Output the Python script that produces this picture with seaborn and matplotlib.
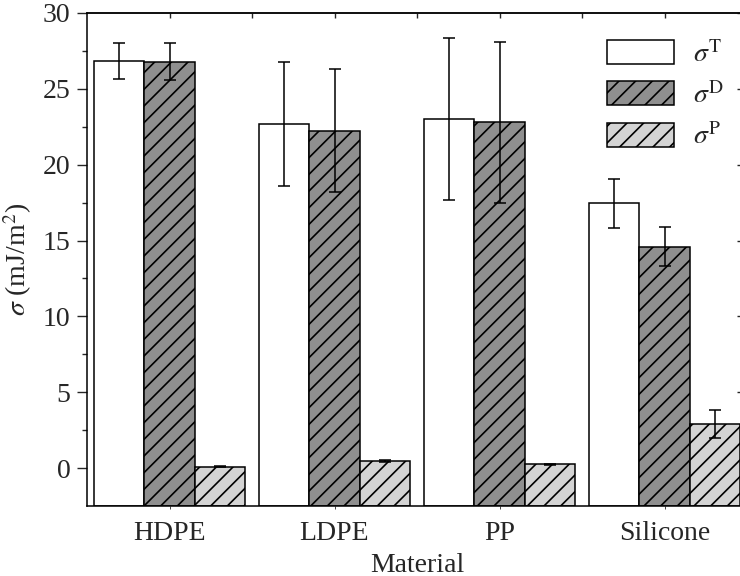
import pandas as pd
import seaborn as sns
import matplotlib.pyplot as plt
from matplotlib.patches import Patch
from matplotlib.ticker import MultipleLocator, FixedLocator, NullFormatter

# values (mJ/m^2)
materials = ["HDPE", "LDPE", "PP", "Silicone"]
components = [r"$\sigma^{\mathrm{T}}$", r"$\sigma^{\mathrm{D}}$", r"$\sigma^{\mathrm{P}}$"]
sigma_T = [26.85, 22.7, 23.0, 17.45]
sigma_T_err = [1.2, 4.1, 5.35, 1.6]
sigma_D = [26.8, 22.25, 22.8, 14.6]
sigma_D_err = [1.2, 4.05, 5.3, 1.3]
sigma_P = [0.1, 0.45, 0.25, 2.9]
sigma_P_err = [0.02, 0.07, 0.03, 0.9]

colors = ["#ffffff", "#8f8f8f", "#d4d4d4"]
hatches = ["", "//", "//"]
ymin = -2.5

df = pd.DataFrame({
    "material": materials * 3,
    "component": [components[0]] * 4 + [components[1]] * 4 + [components[2]] * 4,
    "value": sigma_T + sigma_D + sigma_P,
    "err": sigma_T_err + sigma_D_err + sigma_P_err,
})

sns.set_style("ticks")
plt.rcParams["font.family"] = ["Liberation Serif", "DejaVu Serif"]
plt.rcParams["mathtext.fontset"] = "stix"
plt.rcParams["hatch.linewidth"] = 1.2

fs = 20
fig = plt.figure(figsize=(7.4, 5.76), dpi=100)
ax = fig.add_axes([87 / 740, 1 - 506 / 576, 660 / 740, 493 / 576])

sns.barplot(data=df, x="material", y="value", hue="component", palette=colors,
            saturation=1, width=0.91, edgecolor="black", linewidth=1.1,
            errorbar=None, legend=False, ax=ax)

# bars start at the bottom of the axis, as in the original (Origin style)
errs = [sigma_T_err, sigma_D_err, sigma_P_err]
for cont, h, err in zip(ax.containers, hatches, errs):
    for bar, e in zip(cont, err):
        top = bar.get_height()
        bar.set_y(ymin)
        bar.set_height(top - ymin)
        bar.set_hatch(h)
        ax.errorbar(bar.get_x() + bar.get_width() / 2, top, yerr=e,
                    color="black", capsize=4, elinewidth=1.1, capthick=1.1)

ax.set_ylim(ymin, 30)
ax.set_xlim(-0.5, 3.5)
ax.yaxis.set_major_locator(MultipleLocator(5))
ax.yaxis.set_minor_locator(FixedLocator([2.5, 7.5, 12.5, 17.5, 22.5, 27.5]))
ax.tick_params(axis="y", which="major", direction="out", length=7, width=1,
               pad=5, labelsize=fs)
ax.tick_params(axis="y", which="minor", direction="out", length=3.6, width=1)
ax.tick_params(axis="x", which="major", direction="out", length=2, width=0.6,
               pad=8.5, labelsize=fs)
ax.set_xlabel("Material", fontsize=fs, labelpad=5)
ax.set_ylabel(r"$\sigma$ (mJ/m$^2$)", fontsize=fs, labelpad=6)
for s in ax.spines.values():
    s.set_linewidth(1.1)
    s.set_color("black")

# ticks on the top and right side pointing inwards
top = ax.secondary_xaxis("top")
top.xaxis.set_major_locator(FixedLocator([0, 1, 2, 3]))
top.xaxis.set_minor_locator(FixedLocator([0.5, 1.5, 2.5]))
top.xaxis.set_major_formatter(NullFormatter())
top.tick_params(which="both", direction="in", length=3.5, width=1)
top.spines["top"].set_linewidth(1.1)
right = ax.secondary_yaxis("right")
right.yaxis.set_major_locator(MultipleLocator(5))
right.yaxis.set_minor_locator(FixedLocator([2.5, 7.5, 12.5, 17.5, 22.5, 27.5]))
right.yaxis.set_major_formatter(NullFormatter())
right.tick_params(which="major", direction="in", length=7, width=1)
right.tick_params(which="minor", direction="in", length=3.6, width=1)

handles = [Patch(facecolor=c, edgecolor="black", hatch=h, linewidth=1.1)
           for c, h in zip(colors, hatches)]
ax.legend(handles, components, loc="upper left",
          bbox_to_anchor=(607 / 740, 1 - 40 / 576), bbox_transform=fig.transFigure,
          frameon=False, fontsize=fs, handlelength=2.4, handleheight=0.95,
          labelspacing=0.5, handletextpad=0.7, borderpad=0, borderaxespad=0)

fig.savefig("out.png", dpi=100)
